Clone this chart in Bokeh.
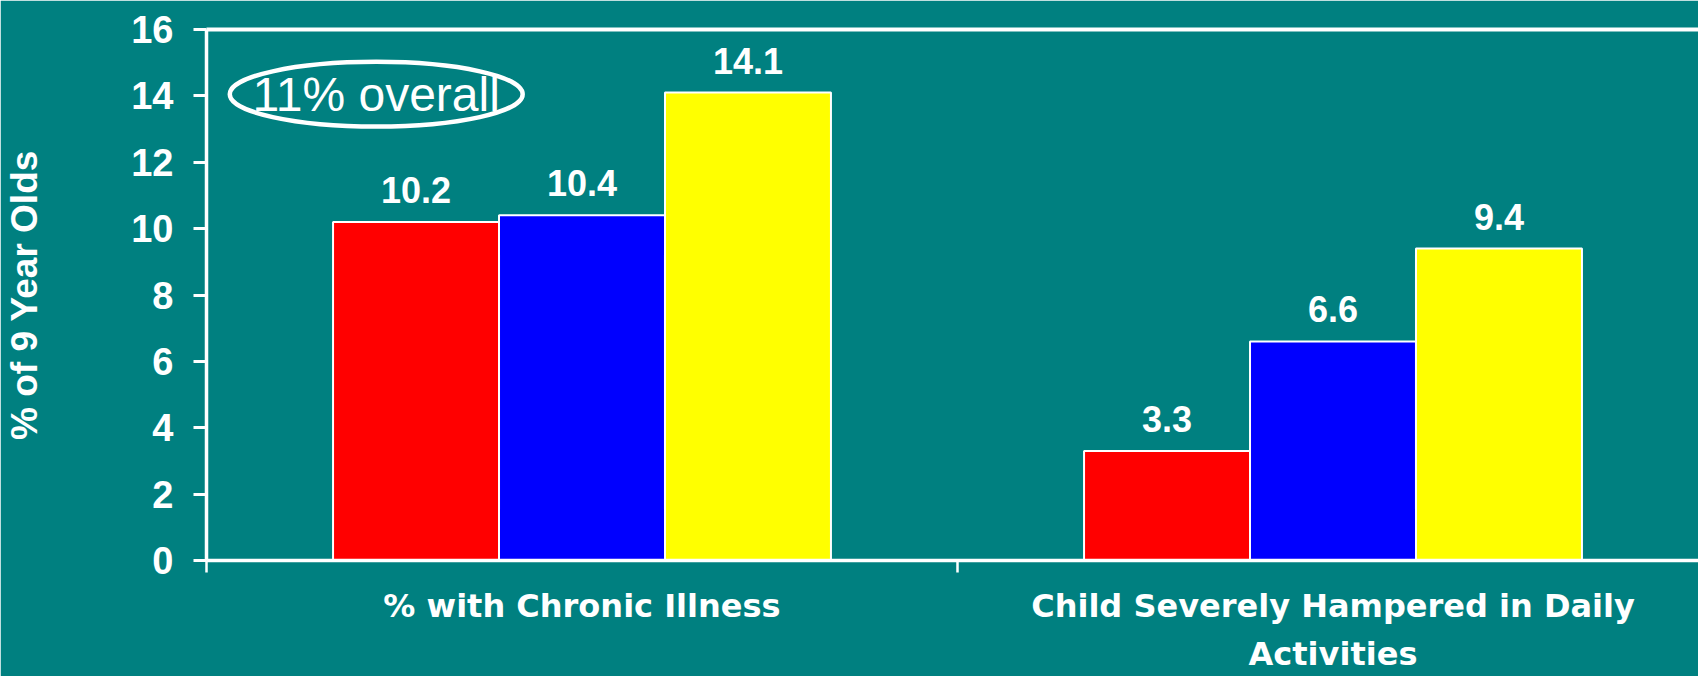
import numpy as np
from bokeh.plotting import figure
from bokeh.models import Range1d, FixedTicker, LinearAxis, ColumnDataSource, LabelSet, Label
from bokeh.core.properties import value
from bokeh.embed import file_html
from bokeh.resources import INLINE

# ---- data ----
categories = ["% with Chronic Illness", "Child Severely Hampered in Daily\nActivities"]
red_values = [10.2, 3.3]
blue_values = [10.4, 6.6]
yellow_values = [14.1, 9.4]
y_ticks = [0, 2, 4, 6, 8, 10, 12, 14, 16]
y_title = "% of 9 Year Olds"
callout_text = "11% overall"
callout_x, callout_y = 0.226, 14.05

# ---- style ----
BG = "#008080"
WHITE = "#FFFFFF"
BAR_COLORS = ["#FF0000", "#0000FF", "#FFFF00"]
FONT = "Liberation Sans"
CAT_FONT = "DejaVu Sans"
BAR_W = 0.221

W, H = 1698, 676
FRAME_LEFT, FRAME_TOP, FRAME_BOTTOM = 206, 29, 560
CAT_PX = 751.0
x_end = (W - FRAME_LEFT) / CAT_PX

p = figure(width=W, height=H, output_backend="svg", toolbar_location=None,
           x_range=Range1d(0, x_end), y_range=Range1d(0, y_ticks[-1]),
           min_border_left=FRAME_LEFT, min_border_right=0,
           min_border_top=FRAME_TOP, min_border_bottom=H - FRAME_BOTTOM,
           background_fill_color=BG, border_fill_color=BG,
           outline_line_color=None, x_axis_location=None, y_axis_location=None)
p.grid.visible = False

# y axis
yaxis = LinearAxis(ticker=FixedTicker(ticks=y_ticks, minor_ticks=[]))
yaxis.axis_line_color = WHITE
yaxis.axis_line_width = 3.5
yaxis.major_tick_line_color = WHITE
yaxis.major_tick_line_width = 3
yaxis.major_tick_out = 13
yaxis.major_tick_in = 0
yaxis.major_label_text_color = WHITE
yaxis.major_label_text_font = FONT
yaxis.major_label_text_font_style = "bold"
yaxis.major_label_text_font_size = "38px"
yaxis.major_label_standoff = 20
yaxis.axis_label = y_title
yaxis.axis_label_text_color = WHITE
yaxis.axis_label_text_font = FONT
yaxis.axis_label_text_font_style = "bold"
yaxis.axis_label_text_font_size = "37px"
yaxis.axis_label_standoff = 83
p.add_layout(yaxis, "left")

# x axis: category names at centres, boundary ticks as minor ticks
centers = [i + 0.5 for i in range(len(categories))]
bounds = [float(i) for i in range(len(categories) + 1)]
xaxis = LinearAxis(ticker=FixedTicker(ticks=centers, minor_ticks=bounds))
xaxis.major_label_overrides = {c: lab for c, lab in zip(centers, categories)}
xaxis.axis_line_color = WHITE
xaxis.axis_line_width = 3.5
xaxis.major_tick_out = 0
xaxis.major_tick_in = 0
xaxis.major_tick_line_color = None
xaxis.minor_tick_line_color = WHITE
xaxis.minor_tick_line_width = 2.5
xaxis.minor_tick_out = 12
xaxis.minor_tick_in = 0
xaxis.major_label_text_color = WHITE
xaxis.major_label_text_font = CAT_FONT
xaxis.major_label_text_font_style = "bold"
xaxis.major_label_text_font_size = "32px"
xaxis.major_label_text_line_height = 1.28
xaxis.major_label_standoff = 14
p.add_layout(xaxis, "below")

# top frame line
top = LinearAxis(ticker=FixedTicker(ticks=[], minor_ticks=[]))
top.axis_line_color = WHITE
top.axis_line_width = 4
top.major_label_text_font_size = "0px"
top.major_tick_line_color = None
top.minor_tick_line_color = None
p.add_layout(top, "above")

# bars and value labels
offsets = [-BAR_W, 0.0, BAR_W]
for vals, color, off in zip([red_values, blue_values, yellow_values], BAR_COLORS, offsets):
    src = ColumnDataSource(dict(x=[c + off for c in centers], top=vals,
                                label=[f"{v:.1f}" for v in vals]))
    p.vbar(x="x", top="top", width=BAR_W, source=src, fill_color=color,
           line_color=WHITE, line_width=2)
    p.add_layout(LabelSet(x="x", y="top", text="label", source=src,
                          text_align="center", text_baseline="alphabetic",
                          y_offset=19, text_color=WHITE, text_font=value(FONT),
                          text_font_style="bold", text_font_size="36px"))

# callout
p.ellipse(x=[callout_x], y=[callout_y], width=0.39, height=1.95,
          fill_color=None, line_color=WHITE, line_width=4.5)
p.add_layout(Label(x=callout_x, y=callout_y, text=callout_text, text_align="center",
                   text_baseline="middle", text_color=WHITE,
                   text_font=FONT, text_font_size="48px"))

open("out.html", "w").write(file_html(p, INLINE))
